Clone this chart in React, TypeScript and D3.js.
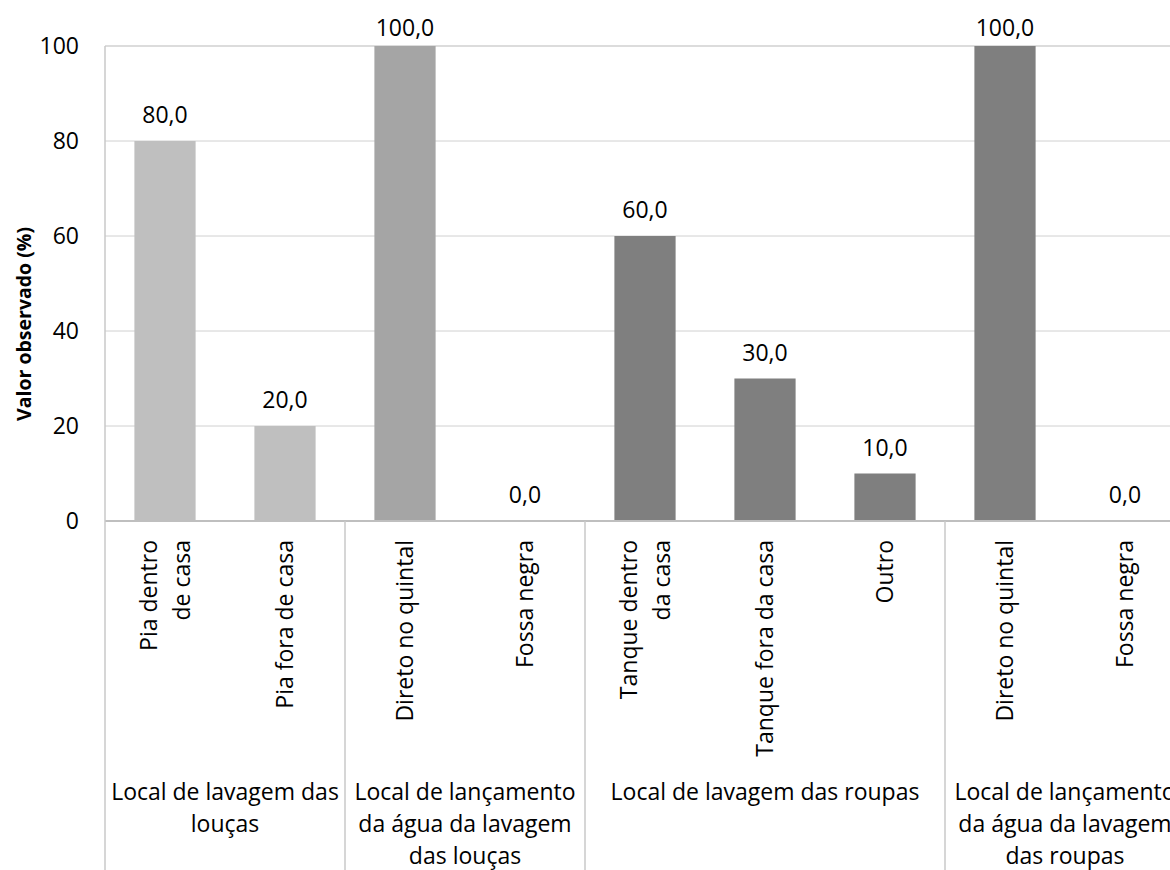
import React from "react";
import * as d3 from "d3";

const categoryLines: string[][] = [
  ["Pia dentro", "de casa"],
  ["Pia fora de casa"],
  ["Direto no quintal"],
  ["Fossa negra"],
  ["Tanque dentro", "da casa"],
  ["Tanque fora da casa"],
  ["Outro"],
  ["Direto no quintal"],
  ["Fossa negra"],
];
const values: number[] = [80, 20, 100, 0, 60, 30, 10, 100, 0];
const categoryGroup: number[] = [0, 0, 1, 1, 2, 2, 2, 3, 3];
const groupLines: string[][] = [
  ["Local de lavagem das", "louças"],
  ["Local de lançamento", "da água da lavagem", "das louças"],
  ["Local de lavagem das roupas"],
  ["Local de lançamento", "da água da lavagem", "das roupas"],
];
const groupColors: string[] = ["#BFBFBF", "#A5A5A5", "#7F7F7F", "#7F7F7F"];
const yTicks: number[] = [0, 20, 40, 60, 80, 100];
const yTitle = "Valor observado (%)";

const W = 1170;
const H = 870;
const left = 105;
const right = 1185;
const top = 46;
const bottom = 521;
const FONT = "'Open Sans', 'Noto Sans', sans-serif";
const FS = 23;

export default function App() {
  const idx = values.map((_, i) => i);
  const x = d3
    .scaleBand<number>()
    .domain(idx)
    .range([left, right])
    .paddingInner(0.49)
    .paddingOuter(0.245);
  const y = d3.scaleLinear().domain([0, 100]).range([bottom, top]);
  const step = x.step();

  const groups = groupLines.map((lines, g) => {
    const members = idx.filter((i) => categoryGroup[i] === g);
    const start = (x(members[0]) as number) - (step - x.bandwidth()) / 2;
    const end = start + members.length * step;
    return { lines, start, end, center: (start + end) / 2 };
  });
  const fmt = (v: number) => v.toFixed(1).replace(".", ",");

  return (
    <svg
      width={W}
      height={H}
      style={{ position: "absolute", left: 0, top: 0, background: "#fff" }}
      fontFamily={FONT}
    >
      <rect x={0} y={0} width={W} height={H} fill="#fff" />
      {yTicks
        .filter((t) => t > 0)
        .map((t) => (
          <line
            key={"g" + t}
            x1={left}
            x2={W}
            y1={y(t)}
            y2={y(t)}
            stroke="#D0D0D0"
            strokeWidth={t === 100 ? 1.6 : 1}
          />
        ))}
      {idx.map((i) => (
        <rect
          key={"b" + i}
          x={x(i)}
          y={y(values[i])}
          width={x.bandwidth()}
          height={y(0) - y(values[i])}
          fill={groupColors[categoryGroup[i]]}
        />
      ))}
      {idx.map((i) => (
        <text
          key={"l" + i}
          x={(x(i) as number) + x.bandwidth() / 2}
          y={Math.max(y(values[i]) - 18, 36)}
          textAnchor="middle"
          fontSize={FS}
          fill="#000"
        >
          {fmt(values[i])}
        </text>
      ))}
      <line x1={left} x2={W} y1={y(0)} y2={y(0)} stroke="#BFBFBF" strokeWidth={2} />
      <line x1={left} x2={left} y1={top} y2={H} stroke="#C8C8C8" strokeWidth={1.5} />
      {groups.slice(1).map((g, k) => (
        <line
          key={"s" + k}
          x1={g.start}
          x2={g.start}
          y1={y(0)}
          y2={H}
          stroke="#C8C8C8"
          strokeWidth={1.5}
        />
      ))}
      {yTicks.map((t) => (
        <text
          key={"t" + t}
          x={79}
          y={y(t) + 8.2}
          textAnchor="end"
          fontSize={FS}
          fill="#000"
        >
          {t}
        </text>
      ))}
      <text
        transform={`translate(24, 324) rotate(-90)`}
        textAnchor="middle"
        dy="0.35em"
        fontSize={19.5}
        fontWeight="bold"
        fill="#000"
      >
        {yTitle}
      </text>
      {idx.map((i) => {
        const lines = categoryLines[i];
        const cx = (x(i) as number) + x.bandwidth() / 2;
        return lines.map((ln, k) => {
          const off = (k - (lines.length - 1) / 2) * 33;
          return (
            <text
              key={"c" + i + "_" + k}
              transform={`translate(${cx + off}, 540) rotate(-90)`}
              textAnchor="end"
              dy="0.35em"
              fontSize={FS}
              fill="#000"
            >
              {ln}
            </text>
          );
        });
      })}
      {groups.map((g, gi) =>
        g.lines.map((ln, k) => (
          <text
            key={"gl" + gi + "_" + k}
            x={g.center}
            y={800 + k * 32}
            textAnchor="middle"
            fontSize={FS}
            fill="#000"
          >
            {ln}
          </text>
        ))
      )}
    </svg>
  );
}
